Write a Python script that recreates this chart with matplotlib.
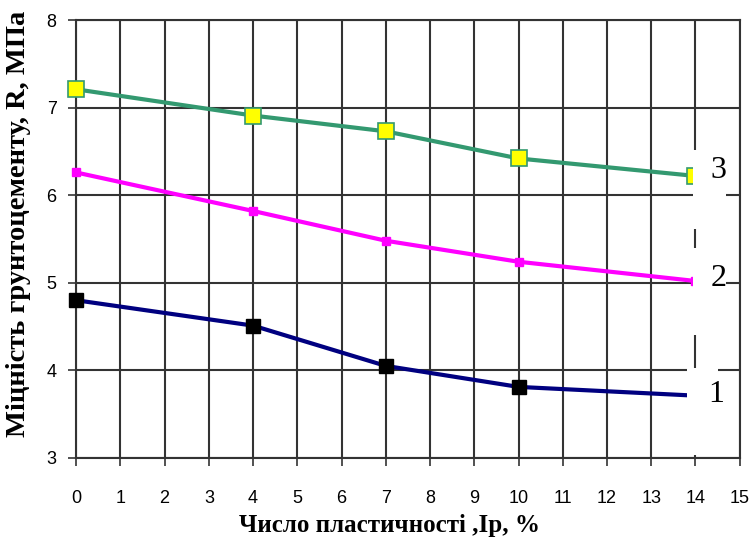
import matplotlib
matplotlib.use('Agg')
import matplotlib.pyplot as plt
from matplotlib.patches import Rectangle

# дані
ip = [0, 4, 7, 10, 14]
r1 = [4.80, 4.51, 4.05, 3.81, 3.71]
r2 = [6.26, 5.82, 5.48, 5.24, 5.02]
r3 = [7.21, 6.91, 6.73, 6.42, 6.22]
curve_labels = ['1', '2', '3']

fig = plt.figure(figsize=(7.54, 5.45), dpi=100)
ax = fig.add_axes([0.101, 0.160, 0.880, 0.803])

ax.plot(ip, r1, color='#000080', lw=3, marker='s', ms=9.5,
        mfc='black', mec='black', zorder=3, clip_on=False)
ax.plot(ip, r2, color='#ff00ff', lw=3, marker='s', ms=5.5,
        mfc='#ff00ff', mec='#ff00ff', zorder=3, clip_on=False)
ax.plot(ip, r3, color='#339970', lw=3, marker='s', ms=11,
        mfc='#ffff00', mec='#339970', mew=1.2, zorder=3, clip_on=False)

ax.set_xlim(0, 15)
ax.set_ylim(3, 8)
ax.set_xticks(range(0, 16))
ax.set_yticks(range(3, 9))
ax.grid(True, color='#333333', lw=1.5)
ax.set_axisbelow(True)
for s in ax.spines.values():
    s.set_color('#333333')
    s.set_linewidth(1.5)
ax.tick_params(direction='out', length=6, width=1.2, color='#333333',
               labelsize=13, pad=8)
ax.tick_params(axis='x', pad=17)
for t in ax.get_xticklabels() + ax.get_yticklabels():
    t.set_fontfamily('Liberation Sans')

# білі підкладки під номери кривих
boxes = [(13.82, 3.03, 0.70, 1.00), (13.94, 4.40, 0.76, 1.00), (13.94, 5.61, 0.76, 0.91)]
for (bx, by, bw, bh) in boxes:
    ax.add_patch(Rectangle((bx, by), bw, bh, facecolor='white',
                           edgecolor='none', zorder=4))
label_pos = [(14.47, 3.72), (14.52, 5.05), (14.52, 6.28)]
for lab, (lx, ly) in zip(curve_labels, label_pos):
    ax.text(lx, ly, lab, fontsize=23, family='Liberation Serif',
            ha='center', va='center', zorder=5)

ax.set_xlabel('Число пластичності ,Ір, %', fontsize=18, fontweight='bold',
              family='Liberation Serif')
ax.set_ylabel('Міцність грунтоцементу, R, МПа', fontsize=20.5,
              fontweight='bold', family='Liberation Serif')
ax.xaxis.set_label_coords(0.473, -0.128)
ax.yaxis.set_label_coords(-0.068, 0.535)

fig.savefig('out.png', dpi=100)
